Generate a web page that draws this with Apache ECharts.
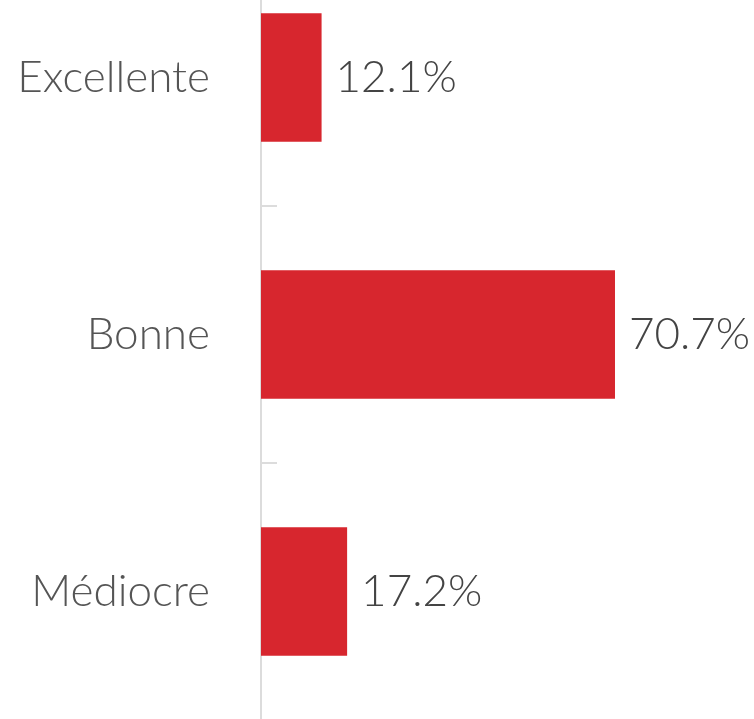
<!DOCTYPE html>
<html>
<head>
<meta charset="utf-8">
<script src="https://cdn.jsdelivr.net/npm/echarts@6/dist/echarts.min.js"></script>
<style>html,body{margin:0;padding:0;background:#fff;overflow:hidden;width:754px;height:719px;position:relative;}
#c{position:absolute;left:0;top:-51px;width:780px;height:771px;}</style>
</head>
<body>
<div id="c"></div>
<script>
const categories = ["Excellente", "Bonne", "Médiocre"];
const values = [12.1, 70.7, 17.2];

const chart = echarts.init(document.getElementById('c'), null, {renderer: 'canvas'});
chart.setOption({
  animation: false,
  backgroundColor: '#ffffff',
  grid: {left: 261, top: 0, width: 500.7, height: 771, containLabel: false},
  xAxis: {type: 'value', min: 0, max: 100, show: false, splitLine: {show: false}},
  yAxis: {
    type: 'category', data: categories, inverse: true,
    axisLine: {show: true, lineStyle: {color: '#dcdcdc', width: 2}},
    axisTick: {show: true, inside: true, length: 16, lineStyle: {color: '#dcdcdc', width: 2}},
    axisLabel: {margin: 51, fontFamily: 'Lato', fontSize: 44, color: '#555555', fontWeight: 300}
  },
  series: [{
    type: 'bar', data: values, barWidth: '50%',
    itemStyle: {color: '#d7262e'},
    label: {show: true, position: 'right', distance: 14, formatter: p => p.value.toFixed(1) + '%',
            fontFamily: 'Lato', fontSize: 44, color: '#444444', fontWeight: 300}
  }]
});
</script>
</body>
</html>
